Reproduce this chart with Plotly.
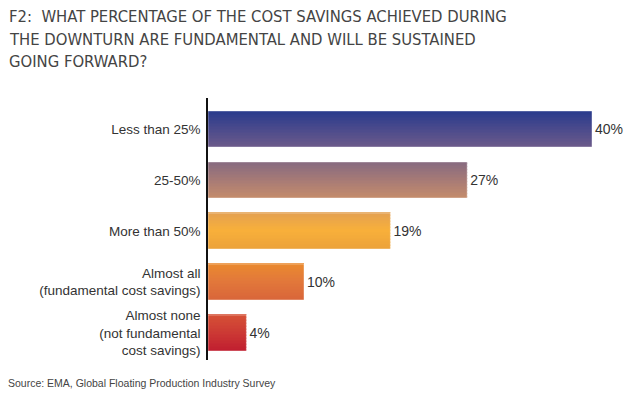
import plotly.graph_objects as go
import numpy as np

categories = [
    "Less than 25%",
    "25-50%",
    "More than 50%",
    "Almost all<br>(fundamental cost savings)",
    "Almost none<br>(not fundamental<br>cost savings)",
]
values = [40, 27, 19, 10, 4]
value_labels = ["40%", "27%", "19%", "10%", "4%"]

title_lines = [
    "F2:  WHAT PERCENTAGE OF THE COST SAVINGS ACHIEVED DURING",
    "THE DOWNTURN ARE FUNDAMENTAL AND WILL BE SUSTAINED",
    "GOING FORWARD?",
]
source_text = "Source: EMA, Global Floating Production Industry Survey"

# gradient stops per bar: top, middle, bottom
grad = [
    ["#283a8c", "#4a4a8c", "#6b5a8a"],
    ["#866a80", "#a67a76", "#c48c6c"],
    ["#e3a052", "#f8b03a", "#eca23a"],
    ["#ea8a2f", "#e2783a", "#d9663a"],
    ["#d65236", "#cc3a34", "#c11e30"],
]


def hex2rgb(h):
    h = h.lstrip("#")
    return np.array([int(h[i:i + 2], 16) for i in (0, 2, 4)], dtype=float)


def interp(stops, t):
    if t <= 0.5:
        a, b, u = hex2rgb(stops[0]), hex2rgb(stops[1]), t / 0.5
    else:
        a, b, u = hex2rgb(stops[1]), hex2rgb(stops[2]), (t - 0.5) / 0.5
    c = a + (b - a) * u
    return "rgb(%d,%d,%d)" % tuple(np.round(c))


# page body has an 8px margin, so the figure is laid out 8px smaller
W, H = 632, 390
L, T, B = 200, 90, 38
PH = H - T - B
PW = W - L

N = 24
bar_w = 0.706
fig = go.Figure()
for k in range(N):
    t = (k + 0.5) / N
    fig.add_trace(go.Bar(
        x=values, y=categories, orientation="h",
        width=[bar_w / N + 0.002] * len(values),
        offset=[-bar_w / 2 + k * bar_w / N] * len(values),
        marker=dict(color=[interp(g, t) for g in grad], line=dict(width=0)),
        hoverinfo="skip", showlegend=False,
    ))

fig.add_trace(go.Bar(
    x=values, y=categories, orientation="h",
    width=[bar_w] * len(values),
    marker=dict(color="rgba(0,0,0,0)", line=dict(width=0.8, color="rgba(255,255,255,0.5)")),
    text=value_labels, textposition="outside", cliponaxis=False,
    textfont=dict(family="Liberation Sans, Arial, sans-serif", size=14, color="#333333"),
    showlegend=False,
))

for i, line in enumerate(title_lines):
    yfig = 8.5 + 22.5 * i
    fig.add_annotation(
        text=line, xref="paper", yref="paper", x=-L / PW, y=1 + (T - yfig) / PH,
        xanchor="left", yanchor="middle", showarrow=False, xshift=-1,
        font=dict(family="DejaVu Sans Condensed, Arial, sans-serif", size=16.5, color="#444444"),
    )

fig.add_annotation(
    text=source_text, xref="paper", yref="paper", x=-L / PW, y=(T + PH - 375) / PH,
    xanchor="left", yanchor="middle", showarrow=False, xshift=-2,
    font=dict(family="Liberation Sans, Arial, sans-serif", size=10.5, color="#444444"),
)

fig.update_layout(
    width=W, height=H,
    margin=dict(l=L, r=0, t=T, b=B),
    paper_bgcolor="white", plot_bgcolor="white",
    barmode="overlay", bargap=0.29,
    xaxis=dict(range=[0, 45], visible=False),
    yaxis=dict(
        range=[4.53, -0.608], showline=True, linecolor="#111111", linewidth=1.5,
        ticks="", showgrid=False, zeroline=False, ticklabelstandoff=3,
        tickfont=dict(family="Liberation Sans, Arial, sans-serif", size=13.5, color="#333333"),
    ),
    font=dict(family="Liberation Sans, Arial, sans-serif"),
)

fig.write_html("out.html")
